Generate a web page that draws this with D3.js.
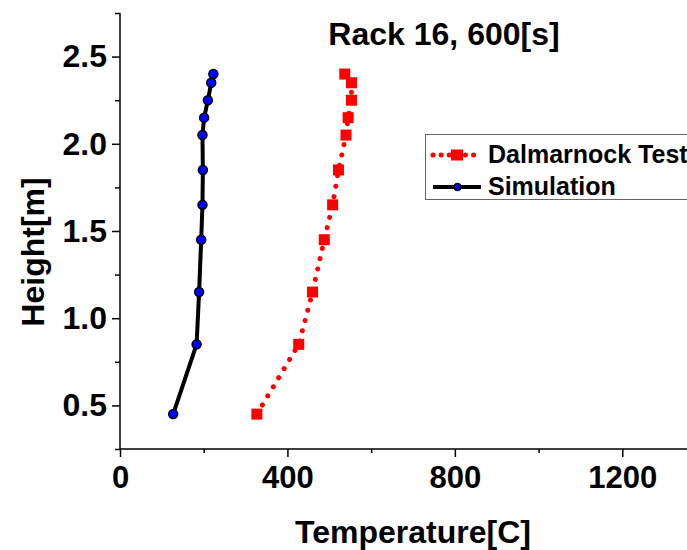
<!DOCTYPE html>
<html>
<head>
<meta charset="utf-8">
<script src="https://cdn.jsdelivr.net/npm/d3@7"></script>
<style>
  body { margin: 0; background: #fff; }
  svg { display: block; font-family: "Liberation Sans", Arial, sans-serif; font-weight: bold; }
</style>
</head>
<body>
<div id="chart"></div>
<script>
"use strict";

// values
var heights       = [0.45, 0.85, 1.15, 1.45, 1.65, 1.85, 2.05, 2.15, 2.25, 2.35, 2.40];
var testTemps     = [327, 427, 460, 488, 508, 522, 540, 545, 553, 553, 537];
var simTemps      = [127, 183, 189, 194, 197, 198, 197, 201, 210, 218, 223];
var xMajorTicks   = [0, 400, 800, 1200];
var xMinorTicks   = [200, 600, 1000, 1400];
var yMajorTicks   = [0.5, 1.0, 1.5, 2.0, 2.5];
var yMinorTicks   = [0.25, 0.75, 1.25, 1.75, 2.25, 2.75];
var seriesNames   = ["Dalmarnock Test", "Simulation"];

var width  = 687;
var height = 550;

var svg = d3.select("#chart").append("svg")
  .attr("width", width)
  .attr("height", height);

var x = d3.scaleLinear().domain([0, 1400]).range([120, 706]);
var y = d3.scaleLinear().domain([0.25, 2.75]).range([449, 13]);

var makeRows = function(temps) {
  return heights.map(function(h, i) { return { t: temps[i], h: h }; });
};

// axes
var xAxis = svg.append("g")
  .attr("transform", "translate(0,449)")
  .call(d3.axisBottom(x).tickValues(xMajorTicks).tickSize(8).tickPadding(9)
    .tickFormat(d3.format("d")));
xAxis.append("g")
  .call(d3.axisBottom(x).tickValues(xMinorTicks).tickSize(4).tickFormat(""));

var yAxis = svg.append("g")
  .attr("transform", "translate(120,0)")
  .call(d3.axisLeft(y).tickValues(yMajorTicks).tickSize(8).tickPadding(5)
    .tickFormat(d3.format(".1f")));
yAxis.append("g")
  .call(d3.axisLeft(y).tickValues(yMinorTicks).tickSize(5).tickFormat(""));

svg.selectAll(".tick line").attr("stroke", "#000").attr("stroke-width", 1.5);

// plain axis lines, no end caps
svg.selectAll(".domain").remove();
svg.append("line")
  .attr("x1", 120).attr("x2", width)
  .attr("y1", 449).attr("y2", 449)
  .attr("stroke", "#000").attr("stroke-width", 1.5);
svg.append("line")
  .attr("x1", 120).attr("x2", 120)
  .attr("y1", y(2.75)).attr("y2", 449)
  .attr("stroke", "#000").attr("stroke-width", 1.5);

xAxis.selectAll(".tick text")
  .attr("font-size", 31).attr("font-family", null).attr("fill", "#000");
yAxis.selectAll(".tick text")
  .attr("font-size", 32).attr("font-family", null).attr("fill", "#000");

// axis titles
svg.append("text")
  .attr("x", 413).attr("y", 543)
  .attr("text-anchor", "middle")
  .attr("font-size", 32)
  .text("Temperature[C]");

svg.append("text")
  .attr("transform", "translate(44,252) rotate(-90)")
  .attr("text-anchor", "middle")
  .attr("font-size", 32)
  .text("Height[m]");

svg.append("text")
  .attr("x", 444).attr("y", 45)
  .attr("text-anchor", "middle")
  .attr("font-size", 32)
  .text("Rack 16, 600[s]");

var line = d3.line()
  .x(function(d) { return x(d.t); })
  .y(function(d) { return y(d.h); });

// Dalmarnock test: red dotted line with squares
var testRows = makeRows(testTemps);
svg.append("path")
  .datum(testRows)
  .attr("d", line)
  .attr("fill", "none")
  .attr("stroke", "#ff0000")
  .attr("stroke-width", 5)
  .attr("stroke-linecap", "round")
  .attr("stroke-dasharray", "0.1 10.5");

svg.selectAll(".test-pt")
  .data(testRows)
  .enter().append("rect")
  .attr("class", "test-pt")
  .attr("x", function(d) { return x(d.t) - 5.5; })
  .attr("y", function(d) { return y(d.h) - 5.5; })
  .attr("width", 11)
  .attr("height", 11)
  .attr("fill", "#ff0000");

// Simulation: black line with blue circles
var simRows = makeRows(simTemps);
svg.append("path")
  .datum(simRows)
  .attr("d", line)
  .attr("fill", "none")
  .attr("stroke", "#000")
  .attr("stroke-width", 4);

svg.selectAll(".sim-pt")
  .data(simRows)
  .enter().append("circle")
  .attr("class", "sim-pt")
  .attr("cx", function(d) { return x(d.t); })
  .attr("cy", function(d) { return y(d.h); })
  .attr("r", 4.5)
  .attr("fill", "#0000ff")
  .attr("stroke", "#000")
  .attr("stroke-width", 1.5);

// legend
var legend = svg.append("g");
legend.append("rect")
  .attr("x", 425.5).attr("y", 134.5)
  .attr("width", 300).attr("height", 65)
  .attr("fill", "#fff")
  .attr("stroke", "#666")
  .attr("stroke-width", 1);

legend.append("line")
  .attr("x1", 433).attr("x2", 481)
  .attr("y1", 155).attr("y2", 155)
  .attr("stroke", "#ff0000")
  .attr("stroke-width", 5)
  .attr("stroke-linecap", "round")
  .attr("stroke-dasharray", "0.1 8");
legend.append("rect")
  .attr("x", 451).attr("y", 149.5)
  .attr("width", 12).attr("height", 11)
  .attr("fill", "#ff0000");

legend.append("line")
  .attr("x1", 433).attr("x2", 481)
  .attr("y1", 187).attr("y2", 187)
  .attr("stroke", "#000")
  .attr("stroke-width", 4);
legend.append("circle")
  .attr("cx", 457.5).attr("cy", 187)
  .attr("r", 3.5)
  .attr("fill", "#0000ff")
  .attr("stroke", "#000")
  .attr("stroke-width", 1.5);

legend.selectAll(".legend-label")
  .data(seriesNames)
  .enter().append("text")
  .attr("class", "legend-label")
  .attr("x", 488)
  .attr("y", function(d, i) { return 163 + i * 32; })
  .attr("font-size", 25)
  .text(function(d) { return d; });
</script>
</body>
</html>
